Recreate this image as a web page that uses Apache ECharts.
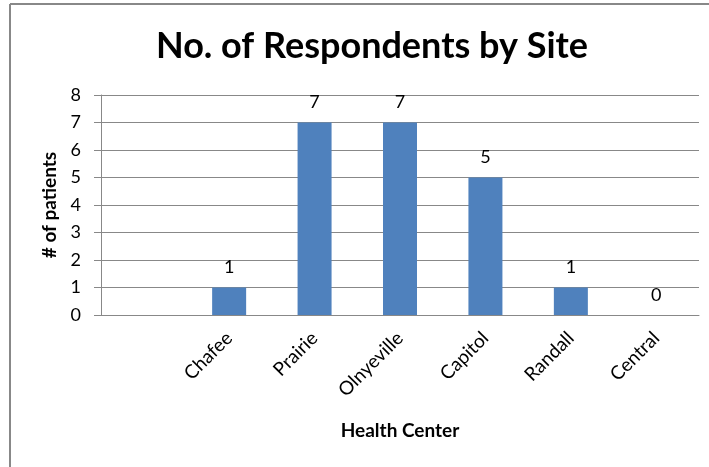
<!DOCTYPE html>
<html>
<head>
<meta charset="utf-8">
<script src="https://cdn.jsdelivr.net/npm/echarts@6/dist/echarts.min.js"></script>
<style>
  html, body { margin: 0; padding: 0; background: #fff; }
  #chart { width: 709px; height: 467px; }
</style>
</head>
<body>
<div id="chart"></div>
<script>
// data
const sites = ["", "Chafee", "Prairie", "Olnyeville", "Capitol", "Randall", "Central"];
const respondents = [null, 1, 7, 7, 5, 1, 0];
const yTicks = [0, 1, 2, 3, 4, 5, 6, 7, 8];

const font = "Lato";
const myChart = echarts.init(document.getElementById("chart"));
myChart.setOption({
  animation: false,
  title: {
    text: "No. of Respondents by Site",
    left: 367,
    top: 23,
    textAlign: "center",
    textStyle: { fontFamily: font, fontSize: 36, fontWeight: "bold", color: "#000" },
  },
  graphic: [
    // frame of the chart area (top and left edges visible)
    { type: "line", shape: { x1: 10, y1: 4, x2: 709, y2: 4 }, style: { stroke: "#888", lineWidth: 2 } },
    { type: "line", shape: { x1: 10, y1: 4, x2: 10, y2: 467 }, style: { stroke: "#888", lineWidth: 2 } },
  ],
  grid: { left: 101, right: 10, top: 95, bottom: 152 },
  xAxis: {
    type: "category",
    data: sites,
    name: "Health Center",
    nameLocation: "middle",
    nameGap: 106,
    nameTextStyle: { fontFamily: font, fontSize: 19, fontWeight: "bold", color: "#000" },
    axisLine: { lineStyle: { color: "#888" } },
    axisTick: { show: false },
    axisLabel: {
      interval: 0,
      rotate: 45,
      margin: 20,
      fontFamily: font,
      fontSize: 19,
      color: "#000",
    },
  },
  yAxis: {
    type: "value",
    min: 0,
    max: yTicks[yTicks.length - 1],
    interval: 1,
    name: "# of patients",
    nameLocation: "middle",
    nameGap: 39,
    nameTextStyle: { fontFamily: font, fontSize: 19, fontWeight: "bold", color: "#000" },
    axisLine: { show: true, lineStyle: { color: "#888" } },
    axisTick: { show: true, length: 7, lineStyle: { color: "#888" } },
    axisLabel: { fontFamily: font, fontSize: 18, color: "#000", margin: 20 },
    splitLine: { lineStyle: { color: "#888" } },
  },
  series: [
    {
      type: "bar",
      data: respondents,
      barWidth: 34,
      itemStyle: { color: "#4F81BD" },
      label: {
        show: true,
        position: "top",
        distance: 11,
        fontFamily: font,
        fontSize: 18,
        color: "#000",
      },
    },
  ],
});
</script>
</body>
</html>
